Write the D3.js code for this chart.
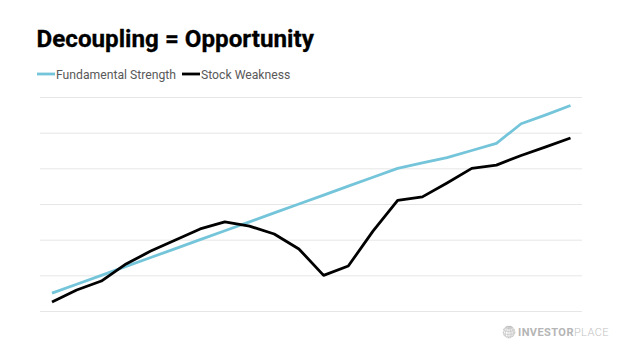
<!DOCTYPE html>
<html>
<head>
<meta charset="utf-8">
<script src="https://cdn.jsdelivr.net/npm/d3@7"></script>
<style>
    html, body { margin: 0; background: #fff; }
    svg { display: block; }
    text { font-family: Roboto, sans-serif; }
</style>
</head>
<body>
<svg id="chart"></svg>
<script>
const periods = d3.range(22)
const strength = [0.5, 0.75, 1.0, 1.25, 1.5, 1.75, 2.0, 2.25, 2.5, 2.75, 3.0, 3.25, 3.5, 3.75, 4.0, 4.15, 4.3, 4.5, 4.7, 5.25, 5.5, 5.76]
const weakness = [0.25, 0.59, 0.84, 1.32, 1.68, 1.99, 2.3, 2.5, 2.38, 2.16, 1.74, 1.0, 1.26, 2.24, 3.1, 3.2, 3.59, 4.0, 4.09, 4.36, 4.6, 4.85]
const gridTicks = [0, 1, 2, 3, 4, 5, 6]
const seriesNames = ['Fundamental Strength', 'Stock Weakness']
const seriesColors = ['#74c5da', '#000000']

const width = 624
const height = 351

const svg = d3.select('#chart')
    .attr('width', width)
    .attr('height', height)

const xScale = d3.scalePoint()
    .domain(periods)
    .range([52, 570.5])

const yScale = d3.scaleLinear()
    .domain([0, 6])
    .range([311, 97])

// gridlines only, the chart has no axis labels
const yAxis = d3.axisLeft(yScale)
    .tickValues(gridTicks)
    .tickSize(-542)
    .tickFormat('')

svg.append('g')
    .attr('transform', 'translate(40, 0)')
    .call(yAxis)
    .call(g => g.select('.domain').remove())
    .selectAll('line')
        .attr('stroke', '#e6e6e6')
        .attr('stroke-width', 1)

const line = d3.line()
    .x((d, i) => xScale(periods[i]))
    .y(d => yScale(d))

svg.selectAll('.series')
    .data([strength, weakness])
    .join('path')
        .attr('class', 'series')
        .attr('fill', 'none')
        .attr('stroke', (d, i) => seriesColors[i])
        .attr('stroke-width', 2.8)
        .attr('stroke-linejoin', 'round')
        .attr('d', line)

svg.append('text')
    .attr('x', 36.5)
    .attr('y', 47)
    .attr('font-size', 24.2)
    .attr('font-weight', 700)
    .attr('fill', '#000')
    .attr('stroke', '#000')
    .attr('stroke-width', 0.3)
    .text('Decoupling = Opportunity')

// legend
const legendX = [37, 182]
const legend = svg.selectAll('.legend')
    .data(seriesNames)
    .join('g')
        .attr('class', 'legend')
        .attr('transform', (d, i) => `translate(${legendX[i]}, 74)`)

legend.append('line')
    .attr('x2', 18)
    .attr('stroke', (d, i) => seriesColors[i])
    .attr('stroke-width', 2.8)

legend.append('text')
    .attr('x', 19)
    .attr('y', 4.5)
    .attr('font-size', 12.2)
    .attr('fill', '#595959')
    .text(d => d)

// logo
const logo = svg.append('g')
    .attr('transform', 'translate(509, 332)')

const globe = d3.geoOrthographic()
    .scale(6)
    .translate([0, 0])
    .rotate([20, -25])

logo.append('path')
    .attr('d', d3.geoPath(globe)(d3.geoGraticule().step([30, 30])()))
    .attr('fill', '#ececec')
    .attr('stroke', '#bdbdbd')
    .attr('stroke-width', 0.6)

const logoText = logo.append('text')
    .attr('x', 9)
    .attr('y', 4)
    .attr('font-size', 11)
    .attr('letter-spacing', 0.43)
    .attr('font-family', 'Lato, sans-serif')

logoText.append('tspan')
    .attr('font-weight', 700)
    .attr('fill', '#b5b5b5')
    .text('INVESTOR')

logoText.append('tspan')
    .attr('font-weight', 300)
    .attr('fill', '#c2c2c2')
    .text('PLACE')
</script>
</body>
</html>
